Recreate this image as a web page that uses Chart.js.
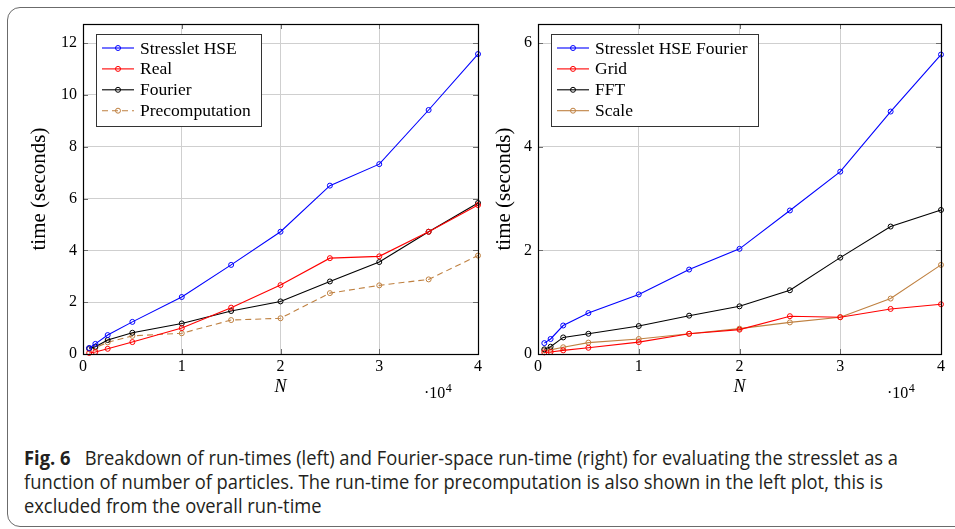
<!DOCTYPE html>
<html><head><meta charset="utf-8">
<script src="https://cdn.jsdelivr.net/npm/chart.js@4/dist/chart.umd.min.js"></script>
<style>
html,body{margin:0;padding:0;background:#fff;}
body{width:955px;height:529px;position:relative;overflow:hidden;}
#frame{position:absolute;left:7px;top:7px;width:1000px;height:520px;border:1.5px solid #6b6b6b;border-radius:13px;box-sizing:border-box;}
#c1{position:absolute;left:0;top:0;}
#c2{position:absolute;left:490px;top:0;}
#caption{position:absolute;left:24px;top:446px;font-family:'Open Sans','Noto Sans',sans-serif;font-size:20px;line-height:24px;color:#231f20;white-space:nowrap;transform-origin:0 0;display:inline-block;}
#caption b{font-weight:700;}
</style></head>
<body>
<div id="frame"></div>
<canvas id="c1" width="490" height="410"></canvas>
<canvas id="c2" width="465" height="410"></canvas>
<div id="caption"><div><b>Fig. 6</b>&nbsp;&nbsp; Breakdown of run-times (left) and Fourier-space run-time (right) for evaluating the stresslet as a</div><div>function of number of particles. The run-time for precomputation is also shown in the left plot, this is</div><div>excluded from the overall run-time</div></div>
<script>
// ---- data (N = number of particles) ----
const nParticles = [625, 1250, 2500, 5000, 10000, 15000, 20000, 25000, 30000, 35000, 40000];
// left plot: breakdown of run-times (seconds)
const hseTotal       = [0.23, 0.39, 0.73, 1.24, 2.20, 3.44, 4.72, 6.50, 7.33, 9.42, 11.58];
const realSpace      = [0.04, 0.08, 0.20, 0.46, 1.00, 1.79, 2.66, 3.70, 3.77, 4.72, 5.75];
const fourierSpace   = [0.22, 0.28, 0.54, 0.82, 1.18, 1.66, 2.03, 2.80, 3.55, 4.72, 5.83];
const precomputation = [0.19, 0.24, 0.45, 0.70, 0.80, 1.31, 1.38, 2.35, 2.65, 2.88, 3.80];
// right plot: Fourier-space run-time (seconds)
const hseFourier = [0.21, 0.29, 0.55, 0.79, 1.15, 1.63, 2.03, 2.77, 3.52, 4.68, 5.78];
const gridTime   = [0.03, 0.04, 0.07, 0.12, 0.23, 0.39, 0.47, 0.73, 0.71, 0.87, 0.96];
const fftTime    = [0.09, 0.14, 0.32, 0.39, 0.54, 0.74, 0.92, 1.23, 1.86, 2.46, 2.78];
const scaleTime  = [0.07, 0.08, 0.13, 0.22, 0.29, 0.39, 0.49, 0.61, 0.71, 1.07, 1.72];
// labels
const leftLabels  = ['Stresslet HSE', 'Real', 'Fourier', 'Precomputation'];
const rightLabels = ['Stresslet HSE Fourier', 'Grid', 'FFT', 'Scale'];
const xTicks = [0, 10000, 20000, 30000, 40000];

const SERIF = "'Liberation Serif','DejaVu Serif',serif";
const BLUE = '#0000ff', RED = '#ff0000', BLACK = '#000000', BROWN = '#bf8040';

function pts(ys){ return nParticles.map((n,i)=>({x:n,y:ys[i]})); }
function ds(label, ys, color, dash){
  return {label, data: pts(ys), borderColor: color, backgroundColor: 'rgba(0,0,0,0)',
    borderWidth: 1.1, borderDash: dash || [], pointRadius: 2.5, pointBorderWidth: 1,
    pointBorderColor: color, pointBackgroundColor: 'rgba(0,0,0,0)', pointHoverRadius: 2.5,
    tension: 0, clip: false};
}

const pgfPlugin = {
  id: 'pgf',
  afterDatasetsDraw(chart){
    const {ctx, chartArea: a, scales} = chart;
    ctx.save();
    // inner tick marks on all four sides
    ctx.strokeStyle = '#6e6e6e'; ctx.lineWidth = 1;
    const L = 5;
    scales.x.ticks.forEach(t=>{
      const px = Math.round(scales.x.getPixelForValue(t.value))+0.5;
      ctx.beginPath(); ctx.moveTo(px,a.bottom); ctx.lineTo(px,a.bottom-L);
      ctx.moveTo(px,a.top); ctx.lineTo(px,a.top+L); ctx.stroke();
    });
    scales.y.ticks.forEach(t=>{
      const py = Math.round(scales.y.getPixelForValue(t.value))+0.5;
      ctx.beginPath(); ctx.moveTo(a.left,py); ctx.lineTo(a.left+L,py);
      ctx.moveTo(a.right,py); ctx.lineTo(a.right-L,py); ctx.stroke();
    });
    // axis frame
    ctx.strokeStyle = '#000'; ctx.lineWidth = 1.2;
    ctx.strokeRect(Math.round(a.left)+0.5, Math.round(a.top)+0.5, Math.round(a.right-a.left), Math.round(a.bottom-a.top));
    ctx.restore();
  },
  afterDraw(chart, args, opts){
    const {ctx, chartArea: a} = chart;
    ctx.save();
    // scale factor label  ·10^4
    ctx.fillStyle = '#000'; ctx.textBaseline = 'alphabetic'; ctx.textAlign = 'left';
    ctx.font = '16px ' + SERIF;
    const sx = a.right - 54, sy = 398;
    ctx.fillText('\u00b710', sx, sy);
    const w = ctx.measureText('\u00b710').width;
    ctx.font = '12px ' + SERIF;
    ctx.fillText('4', sx + w + 0.5, sy - 6);
    // legend box
    const lx = opts.x, ly = opts.y;
    ctx.font = '17.5px ' + SERIF;
    const sets = chart.data.datasets;
    let maxW = 0; sets.forEach(d=>{ maxW = Math.max(maxW, ctx.measureText(d.label).width); });
    const bw = Math.round(44 + maxW + 10), bh = 92;
    ctx.fillStyle = '#fff';
    ctx.fillRect(lx, ly, bw, bh);
    ctx.strokeStyle = '#333'; ctx.lineWidth = 1;
    ctx.strokeRect(lx+0.5, ly+0.5, bw, bh);
    sets.forEach((d,i)=>{
      const cy = ly + 14 + i*20.9;
      ctx.strokeStyle = d.borderColor; ctx.lineWidth = 1.1;
      ctx.setLineDash(d.borderDash || []);
      ctx.beginPath(); ctx.moveTo(lx+6, cy); ctx.lineTo(lx+38, cy); ctx.stroke();
      ctx.setLineDash([]);
      ctx.beginPath(); ctx.arc(lx+22, cy, 2.5, 0, Math.PI*2); ctx.lineWidth = 1; ctx.stroke();
      ctx.fillStyle = '#000'; ctx.textBaseline = 'middle';
      ctx.fillText(d.label, lx+44, cy+1);
    });
    ctx.restore();
  }
};

function makeChart(id, datasets, yMax, yWidth, yTitlePad, rightPad, legendPos){
  return new Chart(document.getElementById(id), {
    type: 'line',
    data: {datasets},
    plugins: [pgfPlugin],
    options: {
      responsive: false, animation: false, events: [],
      layout: {padding: {top: 24, right: rightPad, left: 0, bottom: 0}},
      plugins: {legend: {display: false}, tooltip: {enabled: false}, pgf: legendPos},
      scales: {
        x: {type: 'linear', min: 0, max: 40000,
          afterFit(s){ s.height = 56; },
          afterBuildTicks(s){ s.ticks = xTicks.map(v=>({value:v})); },
          ticks: {padding: 3, color: '#000', font: {family: SERIF, size: 16}, callback: v => String(v/10000)},
          grid: {color: '#cfcfcf', lineWidth: 1, drawTicks: false},
          border: {display: false},
          title: {display: true, text: 'N', color: '#000', font: {family: SERIF, size: 18, style: 'italic'}, padding: {top: 0, bottom: 12}}
        },
        y: {type: 'linear', min: 0, max: yMax,
          afterFit(s){ s.width = yWidth; },
          ticks: {stepSize: 2, includeBounds: false, padding: 6, color: '#000', font: {family: SERIF, size: 16}},
          grid: {color: '#cfcfcf', lineWidth: 1, drawTicks: false},
          border: {display: false},
          title: {display: true, text: 'time (seconds)', color: '#000', font: {family: SERIF, size: 21}, padding: {top: yTitlePad, bottom: 0}}
        }
      }
    }
  });
}

makeChart('c1', [
  ds(leftLabels[0], hseTotal, BLUE),
  ds(leftLabels[1], realSpace, RED),
  ds(leftLabels[2], fourierSpace, BLACK),
  ds(leftLabels[3], precomputation, BROWN, [6,4])
], 12.74, 83, 27, 12, {x: 96, y: 34});

makeChart('c2', [
  ds(rightLabels[0], hseFourier, BLUE),
  ds(rightLabels[1], gridTime, RED),
  ds(rightLabels[2], fftTime, BLACK),
  ds(rightLabels[3], scaleTime, BROWN)
], 6.37, 48, 2, 14, {x: 61, y: 34});

// fit caption width to the reference line length
const cap = document.getElementById('caption');
const w = cap.getBoundingClientRect().width;
cap.style.transform = 'scaleX(' + (874 / w) + ')';
</script>
</body></html>
